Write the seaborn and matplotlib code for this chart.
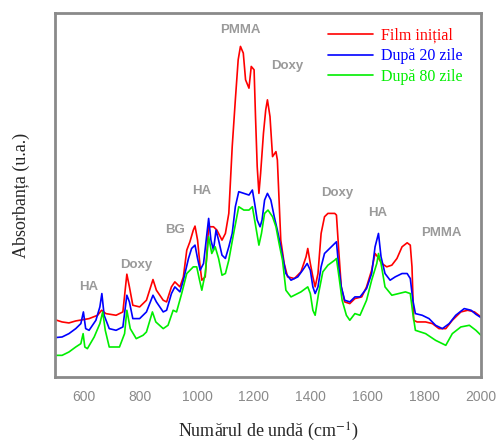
import numpy as np
import pandas as pd
import matplotlib
matplotlib.use("Agg")
import matplotlib.pyplot as plt
import seaborn as sns

# spectra (wavenumber cm-1, absorbance a.u.)
wn_initial = [499, 525, 549, 573, 600, 620, 650, 664, 679, 715, 739, 753, 762, 774, 798, 822, 845, 857,
              881, 893, 910, 922, 940, 952, 964, 975, 987, 993, 1002, 1011, 1017, 1029, 1041, 1058, 1070,
              1088, 1100, 1112, 1124, 1135, 1145, 1153, 1163, 1171, 1183, 1191, 1201, 1206, 1212, 1218,
              1224, 1234, 1242, 1248, 1257, 1266, 1278, 1283, 1289, 1295, 1307, 1319, 1343, 1366, 1384,
              1390, 1399, 1408, 1416, 1426, 1437, 1449, 1461, 1485, 1491, 1499, 1508, 1520, 1538, 1556,
              1580, 1597, 1615, 1627, 1636, 1651, 1668, 1686, 1704, 1722, 1740, 1751, 1757, 1763, 1775,
              1805, 1829, 1852, 1876, 1899, 1929, 1953, 1977, 2000]
abs_initial = [0.172, 0.165, 0.162, 0.168, 0.172, 0.175, 0.185, 0.200, 0.190, 0.185, 0.195, 0.308, 0.270,
               0.215, 0.210, 0.230, 0.292, 0.260, 0.230, 0.225, 0.270, 0.285, 0.270, 0.300, 0.380, 0.405,
               0.440, 0.452, 0.410, 0.330, 0.290, 0.300, 0.450, 0.450, 0.440, 0.410, 0.430, 0.490, 0.690,
               0.830, 0.950, 0.990, 0.970, 0.890, 0.865, 0.930, 0.920, 0.780, 0.630, 0.550, 0.610, 0.730,
               0.800, 0.830, 0.780, 0.660, 0.675, 0.650, 0.530, 0.410, 0.340, 0.300, 0.295, 0.315, 0.360,
               0.385, 0.340, 0.300, 0.270, 0.310, 0.430, 0.480, 0.490, 0.490, 0.485, 0.380, 0.270, 0.225,
               0.220, 0.235, 0.240, 0.270, 0.320, 0.370, 0.360, 0.340, 0.330, 0.335, 0.355, 0.390, 0.402,
               0.395, 0.330, 0.170, 0.165, 0.165, 0.160, 0.145, 0.145, 0.170, 0.195, 0.200, 0.195, 0.180]

wn_20 = [499, 525, 549, 573, 591, 600, 608, 620, 644, 658, 665, 673, 691, 715, 739, 753, 762, 774, 798,
         822, 845, 857, 881, 893, 910, 922, 940, 952, 970, 981, 993, 1002, 1011, 1023, 1035, 1041, 1049,
         1058, 1067, 1076, 1088, 1100, 1112, 1124, 1135, 1147, 1165, 1183, 1195, 1203, 1212, 1222, 1229,
         1238, 1248, 1260, 1272, 1283, 1295, 1313, 1331, 1355, 1372, 1388, 1399, 1408, 1416, 1426, 1437,
         1449, 1473, 1491, 1499, 1508, 1520, 1538, 1556, 1574, 1597, 1615, 1627, 1639, 1648, 1662, 1680,
         1698, 1722, 1740, 1751, 1760, 1769, 1793, 1817, 1840, 1864, 1888, 1911, 1941, 1965, 1982, 2000]
abs_20 = [0.118, 0.120, 0.130, 0.145, 0.160, 0.195, 0.145, 0.140, 0.170, 0.210, 0.250, 0.185, 0.145,
          0.140, 0.150, 0.245, 0.225, 0.175, 0.175, 0.195, 0.245, 0.225, 0.195, 0.200, 0.250, 0.270,
          0.255, 0.290, 0.355, 0.385, 0.395, 0.355, 0.320, 0.340, 0.430, 0.475, 0.410, 0.380, 0.440,
          0.410, 0.365, 0.355, 0.390, 0.430, 0.510, 0.555, 0.550, 0.545, 0.560, 0.520, 0.470, 0.450,
          0.470, 0.530, 0.550, 0.530, 0.480, 0.440, 0.390, 0.310, 0.290, 0.300, 0.320, 0.340, 0.320,
          0.270, 0.250, 0.270, 0.330, 0.370, 0.390, 0.405, 0.330, 0.270, 0.230, 0.225, 0.240, 0.240,
          0.265, 0.310, 0.390, 0.430, 0.360, 0.310, 0.290, 0.300, 0.310, 0.310, 0.295, 0.230, 0.190,
          0.185, 0.175, 0.155, 0.145, 0.160, 0.185, 0.205, 0.200, 0.188, 0.178]

wn_80 = [499, 525, 549, 573, 591, 599, 605, 614, 638, 658, 668, 677, 691, 727, 745, 753, 765, 786, 810,
         822, 843, 855, 881, 898, 916, 928, 946, 964, 987, 999, 1009, 1017, 1029, 1041, 1052, 1064, 1076,
         1088, 1100, 1112, 1129, 1147, 1165, 1183, 1195, 1203, 1218, 1227, 1238, 1250, 1266, 1278, 1289,
         1301, 1313, 1331, 1366, 1390, 1399, 1408, 1416, 1428, 1443, 1461, 1485, 1491, 1500, 1511, 1526,
         1538, 1556, 1574, 1597, 1615, 1633, 1639, 1648, 1662, 1686, 1710, 1734, 1751, 1760, 1769, 1805,
         1840, 1876, 1899, 1929, 1959, 1982, 2000]
abs_80 = [0.065, 0.065, 0.075, 0.090, 0.100, 0.130, 0.090, 0.085, 0.120, 0.160, 0.195, 0.140, 0.090,
          0.090, 0.130, 0.200, 0.145, 0.115, 0.125, 0.135, 0.195, 0.165, 0.145, 0.155, 0.200, 0.195,
          0.250, 0.310, 0.330, 0.330, 0.290, 0.260, 0.310, 0.420, 0.370, 0.390, 0.355, 0.305, 0.310,
          0.350, 0.430, 0.510, 0.500, 0.500, 0.510, 0.470, 0.395, 0.430, 0.490, 0.500, 0.480, 0.450,
          0.400, 0.350, 0.260, 0.240, 0.255, 0.270, 0.250, 0.200, 0.185, 0.250, 0.315, 0.335, 0.350,
          0.355, 0.300, 0.230, 0.185, 0.170, 0.190, 0.185, 0.230, 0.290, 0.340, 0.370, 0.340, 0.270,
          0.245, 0.250, 0.255, 0.250, 0.190, 0.140, 0.130, 0.110, 0.095, 0.130, 0.150, 0.155, 0.140, 0.125]

series_names = ["Film inițial", "După 20 zile", "După 80 zile"]
series_colors = ["#ff0000", "#0000ff", "#00ee00"]

peak_labels = ["PMMA", "Doxy", "HA", "BG", "Doxy", "HA", "Doxy", "HA", "PMMA"]
peak_wn = [1153, 1319, 1017, 922, 786, 618, 1494, 1636, 1861]
peak_abs = [1.04, 0.93, 0.558, 0.44, 0.335, 0.27, 0.55, 0.49, 0.43]


def main():
    sns.set_style("white")
    plt.rcParams["mathtext.fontset"] = "stix"
    fig = plt.figure(figsize=(5, 4.41), dpi=100)
    ax = fig.add_axes([0.11, 0.145, 0.852, 0.8255])

    data = [(wn_initial, abs_initial), (wn_20, abs_20), (wn_80, abs_80)]
    for (x, y), name, col in zip(data, series_names, series_colors):
        sns.lineplot(x=x, y=y, ax=ax, color=col, linewidth=1.2, label=name, sort=False)

    for lab, x, y in zip(peak_labels, peak_wn, peak_abs):
        ax.text(x, y, lab, ha="center", va="center", fontsize=9.5, fontweight="bold",
                color="#9a9a9a", family="Liberation Sans")

    ax.set_xlim(500, 2000)
    ax.set_ylim(0, 1.09)
    ax.set_xticks(range(600, 2001, 200))
    ax.set_yticks([])
    ax.tick_params(axis="x", direction="out", length=6, width=2, color="#8a8a8a",
                   labelcolor="#8a8a8a", labelsize=10, pad=3)
    for lbl in ax.get_xticklabels():
        lbl.set_family("Liberation Sans")
    for sp in ax.spines.values():
        sp.set_color("#8a8a8a")
        sp.set_linewidth(2)

    ax.set_xlabel("Numărul de undă (cm$^{-1}$)", family="Liberation Serif", fontsize=13, labelpad=12)
    ax.set_ylabel("Absorbanța (u.a.)", family="Liberation Serif", fontsize=13, labelpad=18)

    leg = ax.legend(loc="upper right", frameon=False, handlelength=2.8, handletextpad=0.5,
                    labelspacing=0.3, prop={"family": "Liberation Serif", "size": 11.5},
                    bbox_to_anchor=(0.99, 1.0))
    for txt, col in zip(leg.get_texts(), series_colors):
        txt.set_color(col)

    fig.savefig("out.png", dpi=100)
    plt.close(fig)


if __name__ == "__main__":
    main()
